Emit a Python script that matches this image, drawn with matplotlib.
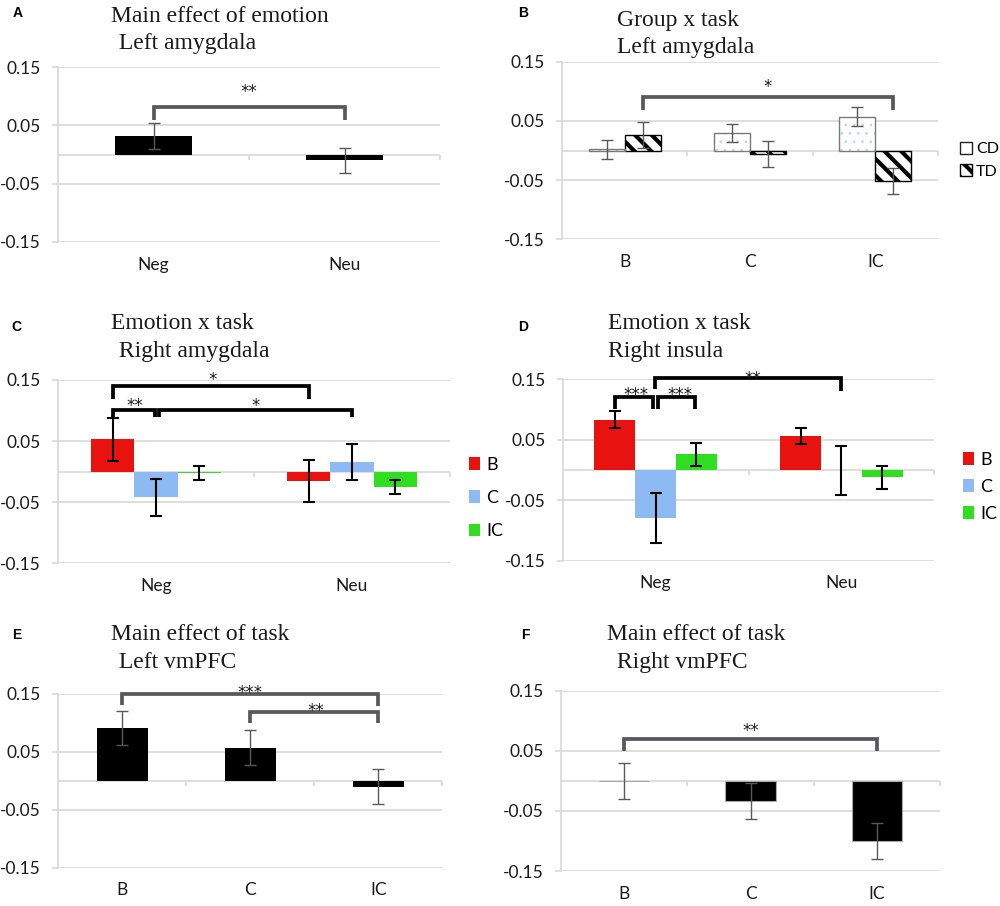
import matplotlib
matplotlib.use('Agg')
import matplotlib.pyplot as plt
from matplotlib.patches import Patch
import numpy as np

plt.rcParams['font.family'] = ['Lato', 'DejaVu Sans']
plt.rcParams['hatch.linewidth'] = 3.0

W, H = 1000, 906

# ---- data ----
emotions = ['Neg', 'Neu']
tasks = ['B', 'C', 'IC']

# A: main effect of emotion, left amygdala
a_vals = [0.032, -0.010]
a_err = [0.022, 0.021]

# B: group x task, left amygdala
b_cd = [0.002, 0.029, 0.057]
b_cd_err = [0.016, 0.015, 0.016]
b_td = [0.026, -0.006, -0.051]
b_td_err = [0.022, 0.022, 0.022]

# C: emotion x task, right amygdala (per task, Neg / Neu)
c_b = [0.053, -0.015]
c_b_err = [0.035, 0.034]
c_c = [-0.042, 0.016]
c_c_err = [0.030, 0.030]
c_ic = [-0.002, -0.025]
c_ic_err = [0.011, 0.012]

# D: emotion x task, right insula
d_b = [0.083, 0.056]
d_b_err = [0.014, 0.013]
d_c = [-0.080, -0.001]
d_c_err = [0.041, 0.040]
d_ic = [0.026, -0.012]
d_ic_err = [0.019, 0.019]

# E / F: main effect of task, vmPFC
e_vals = [0.091, 0.057, -0.010]
e_err = [0.030, 0.030, 0.030]
f_vals = [0.0, -0.033, -0.100]
f_err = [0.030, 0.030, 0.030]

# significance brackets: x1, x2, top, left end, right end, label, label x, label y
a_sig = [(0, 1, 0.081, 0.060, 0.060, '**', 0.5, 0.116)]
b_sig = [(0.144, 2.144, 0.091, 0.069, 0.069, '*', 1.14, 0.117)]
c_sig = [(-0.22, 0.78, 0.140, 0.119, 0.119, '*', 0.29, 0.159),
         (-0.22, -0.005, 0.101, 0.089, 0.089, '**', -0.107, 0.117),
         (0.015, 1.0, 0.101, 0.089, 0.089, '*', 0.51, 0.117)]
d_sig = [(-0.22, -0.015, 0.121, 0.100, 0.100, '***', -0.106, 0.133),
         (0.012, 0.21, 0.121, 0.100, 0.100, '***', 0.131, 0.133),
         (-0.004, 1.0, 0.151, 0.133, 0.130, '**', 0.523, 0.159)]
e_sig = [(0, 2, 0.149, 0.131, 0.128, '***', 1.0, 0.160),
         (1, 2, 0.118, 0.0995, 0.0995, '**', 1.513, 0.129)]
f_sig = [(0, 2, 0.0704, 0.049, 0.049, '**', 1.0, 0.092)]

RED = '#e8130f'
BLUE = '#8dbaf2'
GREEN = '#2fdf1f'
GRID = '#d6d9d6'
GRAY = '#58595b'
INK = '#1a1a1a'

fig = plt.figure(figsize=(W / 100, H / 100), dpi=100)


def make_ax(x0, y0, x1, y1, cats):
    # box in pixels (left, top, right, bottom)
    ax = fig.add_axes([x0 / W, 1 - y1 / H, (x1 - x0) / W, (y1 - y0) / H])
    n = len(cats)
    ax.set_xlim(-0.5, n - 0.5)
    ax.set_ylim(-0.15, 0.15)
    ax.set_yticks([-0.15, -0.05, 0.05, 0.15])
    ax.set_yticklabels(['-0.15', '-0.05', '0.05', '0.15'])
    ax.set_xticks(range(n))
    ax.set_xticklabels(cats)
    ax.grid(axis='y', color=GRID, lw=1.2)
    ax.set_axisbelow(True)
    for s in ['top', 'right', 'bottom']:
        ax.spines[s].set_visible(False)
    ax.spines['left'].set_color(GRID)
    ax.spines['left'].set_linewidth(1.2)
    ax.tick_params(axis='y', length=4.5, color=GRID, width=1.2, pad=8, labelsize=12.5, labelcolor=INK)
    ax.tick_params(axis='x', length=0, pad=10.5, labelsize=12.5, labelcolor=INK)
    ax.axhline(0, color=GRID, lw=1.2, zorder=0.5)
    ax.vlines(np.arange(n) + 0.5, -0.009, 0, color=GRID, lw=1.2, zorder=0.5, clip_on=False)
    return ax


def brackets(ax, sig, color):
    for x1, x2, top, yl, yr, lab, lx, ly in sig:
        ax.plot([x1, x1, x2, x2], [yl, top, top, yr], color=color, lw=2.7,
                clip_on=False, solid_joinstyle='miter', solid_capstyle='butt', zorder=5)
        ax.annotate(lab, (lx, ly), xytext=(0, -7.5), textcoords='offset points',
                    ha='center', va='baseline', fontsize=12, family='DejaVu Sans',
                    color=INK, annotation_clip=False, zorder=6)


def titles(x, y1, line1, x2, y2, line2, letter, lx, ly):
    fig.text(x / W, 1 - y1 / H, line1, family='Liberation Serif', fontsize=17, va='baseline', color=INK)
    fig.text(x2 / W, 1 - y2 / H, line2, family='Liberation Serif', fontsize=17, va='baseline', color=INK)
    fig.text(lx / W, 1 - ly / H, letter, family='Liberation Sans', fontsize=10,
             fontweight='bold', va='baseline')


# ---- A ----
ax = make_ax(58, 67, 440, 242, emotions)
x = np.arange(len(emotions))
ax.bar(x, a_vals, 0.4, color='black', zorder=2)
ax.errorbar(x, a_vals, yerr=a_err, fmt='none', ecolor=GRAY, elinewidth=1, capsize=4, zorder=3)
brackets(ax, a_sig, GRAY)
titles(111, 21.7, 'Main effect of emotion', 113, 49.3, ' Left amygdala', 'A', 12.5, 17.3)

# ---- B ----
ax = make_ax(562, 61.7, 938, 239.3, tasks)
x = np.arange(len(tasks))
w = 0.287
with plt.rc_context({'hatch.linewidth': 0.6}):
    cd_fill = ax.bar(x - w / 2, b_cd, w, color='white', edgecolor='#b5d3ee', hatch='..', lw=0, zorder=2)
for p in cd_fill:
    if hasattr(p, 'set_hatch_linewidth'):
        p.set_hatch_linewidth(0.6)
ax.bar(x - w / 2, b_cd, w, color='none', edgecolor='#7a7a7a', lw=1.0, zorder=2.5)
ax.bar(x + w / 2, b_td, w, color='white', edgecolor='black', hatch='\\\\', lw=1.0, zorder=2)
ax.errorbar(x - w / 2, b_cd, yerr=b_cd_err, fmt='none', ecolor=GRAY, elinewidth=1, capsize=4, zorder=3)
ax.errorbar(x + w / 2, b_td, yerr=b_td_err, fmt='none', ecolor=GRAY, elinewidth=1, capsize=4, zorder=3)
brackets(ax, b_sig, GRAY)
hb = [Patch(facecolor='white', edgecolor='#222222', lw=1.0),
      Patch(facecolor='white', edgecolor='black', hatch='\\\\', lw=1.0)]
ax.legend(hb, ['CD', 'TD'], loc='center left', bbox_to_anchor=(1.058, 0.445), frameon=False,
          fontsize=11.5, handlelength=0.75, handleheight=0.75, handletextpad=0.25,
          labelspacing=0.5, borderpad=0, borderaxespad=0)
titles(616.7, 25.7, 'Group x task', 616.7, 53.3, 'Left amygdala', 'B', 518.3, 17.3)

# ---- C ----
ax = make_ax(58, 380, 450, 563.3, emotions)
x = np.arange(len(emotions))
w = 0.22
hc = []
for off, vals, err, col in [(-w, c_b, c_b_err, RED), (0, c_c, c_c_err, BLUE), (w, c_ic, c_ic_err, GREEN)]:
    hc.append(ax.bar(x + off, vals, w, color=col, zorder=2))
    ax.errorbar(x + off, vals, yerr=err, fmt='none', ecolor='black', elinewidth=1.5, capsize=4,
                capthick=1.5, zorder=3)
brackets(ax, c_sig, 'black')
ax.legend(hc, tasks, loc='center left', bbox_to_anchor=(1.048, 0.356), frameon=False,
          fontsize=13, handlelength=0.6, handleheight=0.7, handletextpad=0.35,
          labelspacing=0.95, borderpad=0, borderaxespad=0)
titles(110.7, 329.3, 'Emotion x task', 113.3, 356.7, ' Right amygdala', 'C', 11.7, 330.7)

# ---- D ----
ax = make_ax(562.7, 379, 934.3, 560.7, emotions)
hd = []
for off, vals, err, col in [(-w, d_b, d_b_err, RED), (0, d_c, d_c_err, BLUE), (w, d_ic, d_ic_err, GREEN)]:
    hd.append(ax.bar(x + off, vals, w, color=col, zorder=2))
    ax.errorbar(x + off, vals, yerr=err, fmt='none', ecolor='black', elinewidth=1.5, capsize=4,
                capthick=1.5, zorder=3)
brackets(ax, d_sig, 'black')
ax.legend(hd, tasks, loc='center left', bbox_to_anchor=(1.078, 0.406), frameon=False,
          fontsize=13, handlelength=0.6, handleheight=0.7, handletextpad=0.35,
          labelspacing=0.6, borderpad=0, borderaxespad=0)
titles(608.3, 329.3, 'Emotion x task', 608.3, 357.3, 'Right insula', 'D', 518.3, 330.7)

# ---- E ----
ax = make_ax(58.3, 693.7, 442.3, 867.7, tasks)
x = np.arange(len(tasks))
ax.bar(x, e_vals, 0.4, color='black', zorder=2)
ax.errorbar(x, e_vals, yerr=e_err, fmt='none', ecolor=GRAY, elinewidth=1, capsize=4, zorder=3)
brackets(ax, e_sig, GRAY)
titles(110.7, 640, 'Main effect of task', 112.7, 667.7, ' Left vmPFC', 'E', 11.7, 639)

# ---- F ----
ax = make_ax(561, 690.7, 940, 871, tasks)
ax.bar(x, f_vals, 0.4, color='black', edgecolor='#aaaaaa', lw=0.8, zorder=2)
ax.errorbar(x, f_vals, yerr=f_err, fmt='none', ecolor=GRAY, elinewidth=1, capsize=4, zorder=3)
brackets(ax, f_sig, GRAY)
titles(607.3, 640, 'Main effect of task', 611, 667.7, ' Right vmPFC', 'F', 520.7, 639)

fig.savefig('out.png', dpi=100)
